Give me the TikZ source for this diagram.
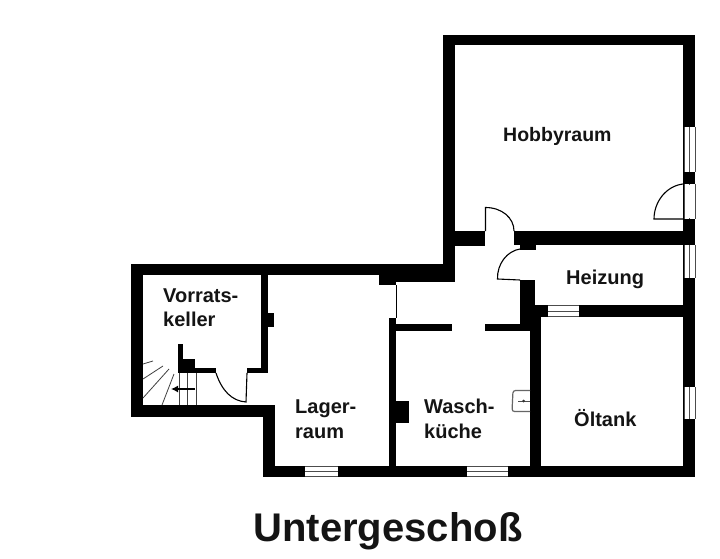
\documentclass[tikz,border=0pt]{standalone}
\usepackage{fontspec}
\usetikzlibrary{arrows.meta}
\setmainfont{Liberation Sans}
\tikzset{
  roomlabel/.style={font=\fontsize{20}{20}\selectfont\bfseries,inner sep=0pt,anchor=base west,text=black!92},
  titlelabel/.style={font=\fontsize{40}{40}\selectfont\bfseries,inner sep=0pt,anchor=base,text=black!92},
  thin line/.style={draw=black,line width=0.7pt},
  door line/.style={draw=black,line width=1.1pt},
  stair line/.style={draw=black!75,line width=0.8pt},
  win line/.style={draw=black!70,line width=0.8pt},
  basin/.style={draw=black!60,line width=1.2pt,rounded corners=2.5pt}
}
\newcommand{\wall}[4]{\fill[black] (#1,#2) rectangle (#3,#4);}
\newcommand{\vwin}[3]{% x-left, top, bottom of window in a vertical outer wall, x-right = left+12
  \fill[white] (#1,#2) rectangle ({#1+12},#3);
  \draw[win line] (#1+0.5,#2) -- (#1+0.5,#3) (#1+6,#2) -- (#1+6,#3) (#1+11.5,#2) -- (#1+11.5,#3);}
\newcommand{\hwin}[4]{% left, right, top, bottom
  \fill[white] (#1,#3) rectangle (#2,#4);
  \draw[win line] (#1,#3+0.5) -- (#2,#3+0.5) (#1,{(#3+#4)/2}) -- (#2,{(#3+#4)/2}) (#1,#4-0.5) -- (#2,#4-0.5);}
\begin{document}
\begin{tikzpicture}[x=1pt,y=-1pt]
\useasboundingbox (0,0) rectangle (720,559);
\fill[white] (0,0) rectangle (720,559);
% outer walls: Hobbyraum
\wall{443}{35}{695}{45}
\wall{443}{35}{455}{282}
\wall{683}{35}{695}{477}
% Vorratskeller
\wall{131}{264}{443}{275}
\wall{131}{264}{143}{417}
\wall{131}{405}{275}{417}
\wall{379}{275}{455}{282}
\wall{379}{275}{396}{285}
\wall{261}{264}{268}{373}
\wall{268}{313}{274}{327}
\wall{247}{368}{268}{373}
% stair block
\wall{178}{368}{216}{373}
\wall{178}{359}{195}{373}
\wall{178}{344}{183}{359}
% Lagerraum
\wall{263}{405}{275}{477}
\wall{263}{466}{695}{477}
% Waschkueche
\wall{389}{318}{396}{477}
\wall{396}{401}{409}{423}
\wall{389}{324}{452}{331}
\wall{485}{324}{535}{331}
\wall{520}{280}{535}{331}
\wall{530}{317}{541}{477}
% Heizung
\wall{455}{231}{485}{246}
\wall{514}{231}{695}{245}
\wall{520}{245}{536}{250}
\wall{535}{305}{695}{317}
% windows
\vwin{683.5}{127}{172}
\vwin{683.5}{184}{219}
\vwin{683.5}{245}{278}
\vwin{683.5}{387}{419}
\hwin{305}{338}{466}{477}
\hwin{467}{508}{466}{477}
\hwin{548}{579}{305}{317}
% door in outer wall: no centre line
\fill[white] (686,185) rectangle (693.5,218);
% doors
\draw[door line] (485.5,231) -- (485.5,207.5) .. controls (502,207.5) and (514,218) .. (514,231);
\draw[door line] (520,249) .. controls (507,251) and (497,264) .. (497.5,279) -- (520,280);
\draw[door line] (683,184) .. controls (666,186) and (654,202) .. (654,219) -- (683,219);
\draw[door line] (216,373) .. controls (222,391) and (232,401) .. (246,402) -- (247,373);
\draw[thin line] (396,285) -- (396,318);
% stairs
\draw[stair line] (179,373) -- (179,405) (187,373) -- (187,405) (196,373) -- (196,405);
\draw[stair line] (143,364) -- (153,361) (143,379) -- (163,366) (143,398) -- (169,369) (162,405) -- (174,374);
\draw[-{Latex[length=7pt,width=7pt]},line width=1.3pt] (195,389) -- (171,389);
% basin
\draw[basin] (530,390.5) -- (513,390.5) -- (512,411.5) -- (530,411.5);
\draw[black!70,line width=0.8pt] (518,401) -- (530,401);
\fill[black!80] (523.5,401) circle (1.5);
% labels
\node[roomlabel,font=\fontsize{19.5}{20}\selectfont\bfseries] (hobby) at (503,142) {Hobbyraum};
\node[roomlabel] (heiz) at (566,284) {Heizung};
\node[roomlabel] (vorr1) at (163,302) {Vorrats-};
\node[roomlabel] (vorr2) at (163,326) {keller};
\node[roomlabel] (lag1) at (295,413) {Lager-};
\node[roomlabel] (lag2) at (295,438) {raum};
\node[roomlabel] (wasch1) at (424,413) {Wasch-};
\node[roomlabel] (wasch2) at (424,438) {küche};
\node[roomlabel] (oel) at (574,426) {Öltank};
\node[titlelabel] (title) at (388,541) {Untergeschoß};
\end{tikzpicture}
\end{document}
